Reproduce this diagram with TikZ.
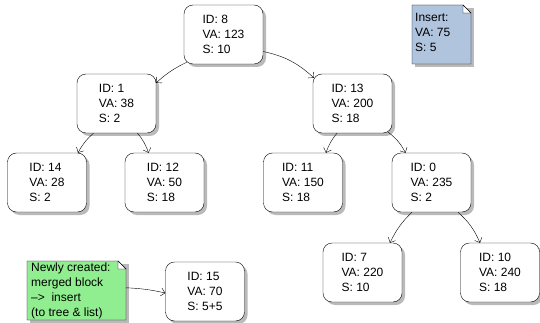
\documentclass[tikz,border=0pt]{standalone}
\usepackage{fontspec}
\setmainfont{Liberation Sans}
\usetikzlibrary{arrows.meta,shadows,backgrounds,calc}

\definecolor{notegreen}{RGB}{144,238,144}
\definecolor{noteblue}{RGB}{176,196,222}

\tikzset{
  x=1pt, y=-1pt,
  every node/.style={font=\fontsize{12}{15}\selectfont},
  block/.style={draw, thin, fill=white, rounded corners=9pt,
    minimum width=79pt, minimum height=59pt, align=left, inner sep=0pt,
    drop shadow={shadow xshift=3pt, shadow yshift=-3pt, fill=black!45, opacity=0.6}},
  notetext/.style={anchor=north west, align=left, inner sep=0pt},
  link/.style={draw, thin, -{Straight Barb[length=4pt,width=8pt]}},
}

% folded-corner note behind a text node: #1 corner NW, #2 corner SE, #3 colour
\newcommand{\notesheet}[3]{%
  \begin{scope}[on background layer]
    \fill[black!45, opacity=0.6] ([shift={(3pt,-3pt)}]#1) rectangle ([shift={(3pt,-3pt)}]#2);
    \path (#1) coordinate (nw) (#2) coordinate (se);
    \draw[thin, fill=#3] (nw) -- ($(nw-|se)+(-8pt,0)$) -- ($(nw-|se)+(0,-8pt)$) -- (se) -- (nw|-se) -- cycle;
    \draw[thin, fill=white] ($(nw-|se)+(-8pt,0)$) -- ($(nw-|se)+(-8pt,-8pt)$) -- ($(nw-|se)+(0,-8pt)$) -- cycle;
  \end{scope}}

\begin{document}
\begin{tikzpicture}
\useasboundingbox (0,0) rectangle (540,323);

% tree blocks
\node[block] (n8)  at (223.5,34.5)  {ID: 8\\VA: 123\\S: 10};
\node[block] (n1)  at (116.5,103.5) {ID: 1\\VA: 38\\S: 2};
\node[block] (n13) at (352.5,103.5) {ID: 13\\VA: 200\\S: 18};
\node[block] (n14) at (47,182.5)    {ID: 14\\VA: 28\\S: 2};
\node[block] (n12) at (164.5,182.5) {ID: 12\\VA: 50\\S: 18};
\node[block] (n11) at (303,182.5)   {ID: 11\\VA: 150\\S: 18};
\node[block] (n0)  at (431.5,182.5) {ID: 0\\VA: 235\\S: 2};
\node[block] (n7)  at (362.5,272.5) {ID: 7\\VA: 220\\S: 10};
\node[block] (n10) at (500,272.5)   {ID: 10\\VA: 240\\S: 18};
\node[block] (n15) at (205,291.5)   {ID: 15\\VA: 70\\S: 5+5};

% notes
\coordinate (insNW) at (412,5);
\coordinate (insSE) at (471,64);
\node[notetext] (ins) at (415,13) {Insert:\\VA: 75\\S: 5};
\notesheet{insNW}{insSE}{noteblue}

\coordinate (newNW) at (27,261);
\coordinate (newSE) at (126,320);
\node[notetext] (new) at (31,263) {Newly created:\\merged block\\--{}>\ \ insert\\(to tree \& list)};
\notesheet{newNW}{newSE}{notegreen}

% connectors
\path[link] ([shift={(3pt,2pt)}]n8.south west) to[bend right=8] ([yshift=-9pt]n1.north east);
\path[link] ([yshift=-17pt]n8.east) to[bend left=15] ([shift={(1pt,-4pt)}]n13.north west);
\path[link] ([xshift=-23pt]n1.south) to[bend right=10] ([xshift=31pt]n14.north);
\path[link] ([xshift=21pt]n1.south) to[bend left=10] ([xshift=-16pt]n12.north);
\path[link] ([xshift=-15.5pt]n13.south) to[bend right=10] ([xshift=23pt]n11.north);
\path[link] ([shift={(-4pt,1pt)}]n13.south east) to[bend left=12] ([xshift=-26pt]n0.north);
\path[link] ([xshift=-19.5pt]n0.south) to[bend right=10] ([xshift=27.5pt]n7.north);
\path[link] ([xshift=26.5pt]n0.south) to[bend left=12] ([xshift=-20pt]n10.north);
\path[link] ([yshift=3.5pt]new.east-|newSE) to[bend left=5] ([yshift=-1.5pt]n15.west);
\end{tikzpicture}
\end{document}
